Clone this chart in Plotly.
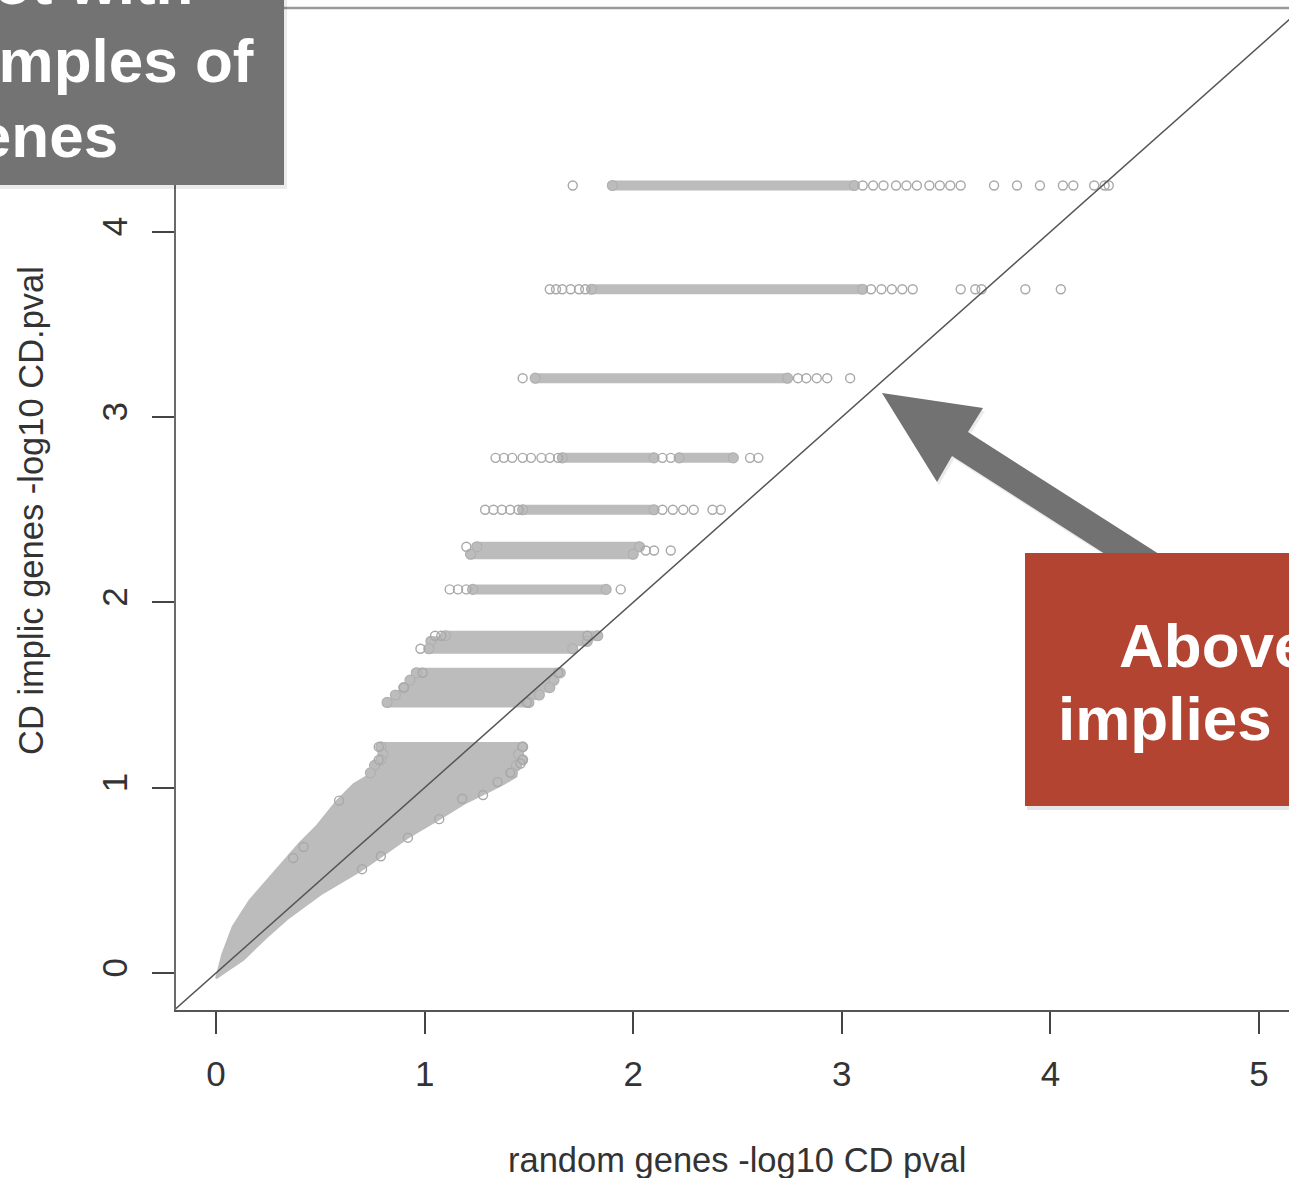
import plotly.graph_objects as go

# ---------------- data ----------------
X_RANGE = [-0.192, 5.144]
Y_RANGE = [-0.200, 5.208]
X_TICKS = [0, 1, 2, 3, 4, 5]
Y_TICKS = [0, 1, 2, 3, 4]
X_TITLE = "random genes -log10 CD pval"
Y_TITLE = "CD implic genes -log10 CD.pval"

# dense horizontal runs of overlapping points: y level, start x, end x
SPAN_Y = [4.25, 3.69, 3.21, 2.78, 2.78, 2.50, 2.30, 2.26, 2.07,
          1.82, 1.79, 1.75, 1.62, 1.58, 1.54, 1.50, 1.46,
          1.22, 1.18, 1.15, 1.12, 1.08]
SPAN_X0 = [1.90, 1.80, 1.53, 1.66, 2.22, 1.47, 1.25, 1.22, 1.23,
           1.10, 1.03, 1.02, 0.96, 0.93, 0.90, 0.86, 0.82,
           0.79, 0.80, 0.79, 0.76, 0.74]
SPAN_X1 = [3.06, 3.10, 2.74, 2.10, 2.48, 2.10, 2.03, 2.00, 1.87,
           1.83, 1.78, 1.71, 1.65, 1.62, 1.60, 1.55, 1.50,
           1.47, 1.45, 1.47, 1.44, 1.42]

# individual (non-overlapping) points
PT_X = [1.71, 3.10, 3.15, 3.20, 3.26, 3.31, 3.36, 3.42, 3.47, 3.52, 3.57,
        3.73, 3.84, 3.95, 4.06, 4.11, 4.21, 4.26, 4.28,
        1.60, 1.63, 1.66, 1.70, 1.74, 1.77, 3.14, 3.19, 3.24, 3.29, 3.34,
        3.57, 3.64, 3.67, 3.88, 4.05,
        1.47, 2.79, 2.83, 2.88, 2.93, 3.04,
        1.34, 1.38, 1.42, 1.47, 1.51, 1.56, 1.60, 1.64, 2.14, 2.18, 2.56, 2.60,
        1.29, 1.33, 1.37, 1.41, 1.45, 2.14, 2.19, 2.24, 2.29, 2.38, 2.42,
        1.20, 2.06, 2.10, 2.18,
        1.12, 1.16, 1.20, 1.94,
        1.05, 1.08, 0.98, 1.78,
        0.99, 1.64, 0.90, 1.49,
        0.78, 0.78, 1.47, 1.47,
        0.59, 0.42, 0.37, 0.70, 0.79, 0.92, 1.07, 1.18, 1.28, 1.35, 1.41, 1.46]
PT_Y = [4.25, 4.25, 4.25, 4.25, 4.25, 4.25, 4.25, 4.25, 4.25, 4.25, 4.25,
        4.25, 4.25, 4.25, 4.25, 4.25, 4.25, 4.25, 4.25,
        3.69, 3.69, 3.69, 3.69, 3.69, 3.69, 3.69, 3.69, 3.69, 3.69, 3.69,
        3.69, 3.69, 3.69, 3.69, 3.69,
        3.21, 3.21, 3.21, 3.21, 3.21, 3.21,
        2.78, 2.78, 2.78, 2.78, 2.78, 2.78, 2.78, 2.78, 2.78, 2.78, 2.78, 2.78,
        2.50, 2.50, 2.50, 2.50, 2.50, 2.50, 2.50, 2.50, 2.50, 2.50, 2.50,
        2.30, 2.28, 2.28, 2.28,
        2.07, 2.07, 2.07, 2.07,
        1.82, 1.82, 1.75, 1.82,
        1.62, 1.62, 1.54, 1.46,
        1.22, 1.15, 1.22, 1.15,
        0.93, 0.68, 0.62, 0.56, 0.63, 0.73, 0.83, 0.94, 0.96, 1.03, 1.08, 1.13]

# outline of the solid cloud of points near the origin
CLOUD_X = [0.00, 0.03, 0.08, 0.16, 0.26, 0.33, 0.40, 0.48, 0.58, 0.66, 0.72, 0.76,
           1.44, 1.44, 1.38, 1.31, 1.20, 1.07, 0.92, 0.82, 0.69, 0.51, 0.34, 0.24,
           0.13, 0.05, 0.00]
CLOUD_Y = [-0.03, 0.10, 0.25, 0.39, 0.52, 0.61, 0.70, 0.79, 0.93, 1.02, 1.06, 1.11,
           1.11, 1.06, 1.02, 0.98, 0.92, 0.83, 0.73, 0.65, 0.55, 0.43, 0.29, 0.19,
           0.07, 0.01, -0.03]

ABLINE = [-0.5, 6.0]   # y = x reference line

BOX1_LINES = ["QQ plot with", "random samples of", "genes"]
BOX2_LINES = ["Above the line", "implies correlation"]

# ---------------- layout geometry ----------------
W, H = 1289, 1178
ML, MR, MT, MB = 176, 0, 8, 168
PW, PH = W - ML - MR, H - MT - MB


def px(x):
    return (x - ML) / PW


def py(y):
    return (H - MB - y) / PH


POINT_GRAY = "#bcbcbc"
FONT = "Liberation Sans, Arial, Helvetica, sans-serif"

fig = go.Figure()

# solid cloud
fig.add_trace(go.Scatter(x=CLOUD_X, y=CLOUD_Y, mode="lines", fill="toself",
                         fillcolor=POINT_GRAY, line=dict(color=POINT_GRAY, width=2),
                         hoverinfo="skip", showlegend=False))

# dense runs
sx, sy = [], []
for y, a, b in zip(SPAN_Y, SPAN_X0, SPAN_X1):
    sx += [a, b, None]
    sy += [y, y, None]
fig.add_trace(go.Scatter(x=sx, y=sy, mode="lines",
                         line=dict(color=POINT_GRAY, width=10),
                         hoverinfo="skip", showlegend=False))
# run end points
ex, ey = [], []
for y, a, b in zip(SPAN_Y, SPAN_X0, SPAN_X1):
    ex += [a, b]
    ey += [y, y]
fig.add_trace(go.Scatter(x=ex, y=ey, mode="markers",
                         marker=dict(symbol="circle", size=10, color=POINT_GRAY,
                                     line=dict(width=1.2, color="#b0b0b0")),
                         hoverinfo="skip", showlegend=False))

# individual points
fig.add_trace(go.Scatter(x=PT_X, y=PT_Y, mode="markers",
                         marker=dict(symbol="circle-open", size=9, color="#a8a8a8",
                                     line=dict(width=1.4)),
                         hoverinfo="skip", showlegend=False))

# y = x line
fig.add_trace(go.Scatter(x=ABLINE, y=ABLINE, mode="lines",
                         line=dict(color="#555555", width=1.5),
                         hoverinfo="skip", showlegend=False))

shapes = []
# top border of plot box
shapes.append(dict(type="line", xref="paper", yref="paper", x0=0, x1=1.02, y0=1, y1=1,
                   line=dict(color="#9a9a9a", width=2.5), layer="above"))


def rect(x0, y0, x1, y1, color):
    return dict(type="rect", xref="paper", yref="paper",
                x0=px(x0), x1=px(x1), y0=py(y1), y1=py(y0),
                fillcolor=color, line=dict(width=0), layer="above")


def poly(points, color):
    path = "M " + " L ".join(f"{px(a):.5f},{py(b):.5f}" for a, b in points) + " Z"
    return dict(type="path", xref="paper", yref="paper", path=path,
                fillcolor=color, line=dict(width=0), layer="above")


# gray text box (top-left) with soft shadow
shapes.append(rect(-10, -10, 287, 189, "rgba(0,0,0,0.08)"))
shapes.append(rect(-10, -10, 284, 185, "#737373"))

# arrow
arrow = [(882, 393), (983, 408), (968, 432), (1209, 586), (1194, 611), (952, 456), (937, 482)]
shapes.append(poly([(a + 2, b + 3) for a, b in arrow], "rgba(0,0,0,0.08)"))
shapes.append(poly(arrow, "#727272"))

# red box with soft shadow
shapes.append(rect(1027, 556, 1300, 810, "rgba(0,0,0,0.10)"))
shapes.append(rect(1025, 553, 1300, 806, "#b24431"))

annotations = []
# titles
annotations.append(dict(text=X_TITLE, xref="paper", yref="paper", x=px(737), y=py(1160),
                        xanchor="center", yanchor="middle", showarrow=False,
                        font=dict(family=FONT, size=34.5, color="#333333")))
annotations.append(dict(text=Y_TITLE, xref="paper", yref="paper", x=px(31), y=py(511),
                        xanchor="center", yanchor="middle", showarrow=False, textangle=-90,
                        font=dict(family=FONT, size=34.5, color="#333333")))

# gray box text (cut off at the page edge, as in the original slide)
for txt, xr, yc in zip(BOX1_LINES, [196, 256, 120], [-17, 60, 135]):
    annotations.append(dict(text=f"<b>{txt}</b>", xref="paper", yref="paper",
                            x=px(xr), y=py(yc), xanchor="right", yanchor="middle",
                            showarrow=False,
                            font=dict(family=FONT, size=62, color="white")))
# red box text
for txt, xl, yc in zip(BOX2_LINES, [1117, 1056], [645, 718]):
    annotations.append(dict(text=f"<b>{txt}</b>", xref="paper", yref="paper",
                            x=px(xl), y=py(yc), xanchor="left", yanchor="middle",
                            showarrow=False,
                            font=dict(family=FONT, size=62, color="white")))

fig.update_layout(
    width=W, height=H,
    margin=dict(l=ML, r=MR, t=MT, b=MB, pad=0),
    paper_bgcolor="white", plot_bgcolor="white",
    showlegend=False,
    shapes=shapes, annotations=annotations,
    xaxis=dict(range=X_RANGE, tickvals=X_TICKS, ticktext=[str(v) for v in X_TICKS],
               ticks="outside", ticklen=22, tickwidth=1.5, tickcolor="#444444",
               showline=True, linecolor="#555555", linewidth=2,
               showgrid=False, zeroline=False, ticklabelstandoff=10,
               tickfont=dict(family=FONT, size=35, color="#333333")),
    yaxis=dict(range=Y_RANGE, tickvals=Y_TICKS, ticktext=[str(v) for v in Y_TICKS],
               ticks="outside", ticklen=22, tickwidth=1.5, tickcolor="#444444",
               showline=True, linecolor="#6a6a6a", linewidth=2, tickangle=-90,
               showgrid=False, zeroline=False, ticklabelstandoff=11,
               tickfont=dict(family=FONT, size=35, color="#333333")),
)

fig.write_html("out.html")
